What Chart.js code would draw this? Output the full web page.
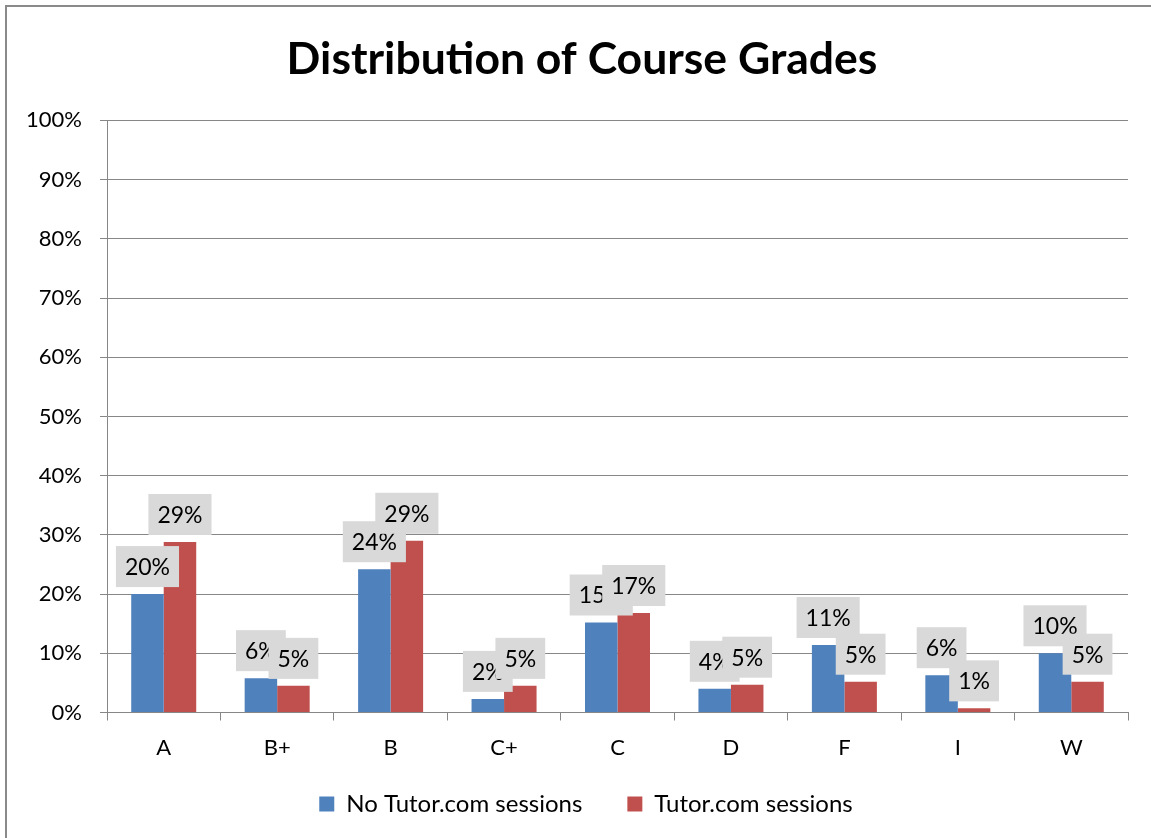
<!DOCTYPE html>
<html>
<head>
<meta charset="utf-8">
<script src="https://cdn.jsdelivr.net/npm/chart.js@4.4.0/dist/chart.umd.min.js"></script>
<style>
  html, body { margin: 0; padding: 0; background: #fff; }
  #wrap { width: 1151px; height: 838px; }
</style>
</head>
<body>
<div id="wrap"><canvas id="gradesChart" width="1151" height="838"></canvas></div>
<script>
// ===== Data =====
const grades = ['A', 'B+', 'B', 'C+', 'C', 'D', 'F', 'I', 'W'];
const noTutor = [20.0, 5.8, 24.2, 2.3, 15.2, 4.0, 11.4, 6.3, 10.0];
const withTutor = [28.8, 4.5, 29.0, 4.5, 16.8, 4.7, 5.2, 0.7, 5.2];
const yTicks = [0, 10, 20, 30, 40, 50, 60, 70, 80, 90, 100];

const FONT = 'Lato, Carlito, Calibri, sans-serif';
const GRID = '#878787';

// grey boxed value labels, Excel style
const valueLabels = {
  id: 'valueLabels',
  afterDatasetsDraw(chart) {
    const ctx = chart.ctx;
    ctx.save();
    ctx.font = '23px ' + FONT;
    ctx.textAlign = 'center';
    ctx.textBaseline = 'middle';
    chart.data.datasets.forEach((ds, i) => {
      chart.getDatasetMeta(i).data.forEach((bar, j) => {
        const txt = Math.round(ds.data[j]) + '%';
        const w = ctx.measureText(txt).width + 18;
        const h = 41;
        const x = bar.x - w / 2;
        const y = bar.y - 7 - h;
        ctx.fillStyle = '#D9D9D9';
        ctx.fillRect(x, y, w, h);
        ctx.fillStyle = '#000';
        ctx.fillText(txt, bar.x, y + h / 2 + 1);
      });
    });
    ctx.restore();
  }
};

// outer frame (top and left edges visible)
const frame = {
  id: 'frame',
  beforeDraw(chart) {
    const ctx = chart.ctx;
    ctx.save();
    ctx.fillStyle = '#fff';
    ctx.fillRect(0, 0, chart.width, chart.height);
    ctx.strokeStyle = '#8a8a8a';
    ctx.lineWidth = 2;
    ctx.beginPath();
    ctx.moveTo(6, chart.height);
    ctx.lineTo(6, 6);
    ctx.lineTo(chart.width, 6);
    ctx.stroke();
    ctx.restore();
  }
};

// move title / legend a bit to sit like the Excel original
const nudge = {
  id: 'nudge',
  afterLayout(chart) {
    const t = chart.titleBlock, lg = chart.legend;
    t.left += 18; t.right += 18;
    lg.left += 22; lg.right += 22;
    lg.top -= 14; lg.bottom -= 14;
  }
};

const ctx1 = document.getElementById('gradesChart').getContext('2d');
const gradesChart = new Chart(ctx1, {
  type: 'bar',
  data: {
    labels: grades,
    datasets: [{
      label: 'No Tutor.com sessions',
      data: noTutor,
      backgroundColor: '#4F81BD',
      borderWidth: 0
    }, {
      label: 'Tutor.com sessions',
      data: withTutor,
      backgroundColor: '#C0504D',
      borderWidth: 0
    }]
  },
  options: {
    responsive: false,
    animation: false,
    categoryPercentage: 0.573,
    barPercentage: 1,
    layout: { padding: { left: 0, right: 23, top: 0, bottom: 7 } },
    plugins: {
      title: {
        display: true,
        text: 'Distribution of Course Grades',
        color: '#000',
        font: { family: FONT, size: 44.5, weight: 'bold' },
        padding: { top: 33, bottom: 34 }
      },
      legend: {
        position: 'bottom',
        maxHeight: 70,
        labels: {
          color: '#000',
          font: { family: FONT, size: 24 },
          boxWidth: 15,
          boxHeight: 15,
          padding: 45
        }
      },
      tooltip: { enabled: false }
    },
    scales: {
      x: {
        afterFit(scale) { scale.height = 48.5; },
        grid: { display: true, drawOnChartArea: false, drawTicks: true, tickLength: 8, color: GRID, offset: true },
        border: { color: GRID, width: 1 },
        ticks: { color: '#000', font: { family: FONT, size: 22 }, padding: 14 }
      },
      y: {
        min: 0,
        max: 100,
        afterFit(scale) { scale.width = 107; },
        afterBuildTicks(scale) { scale.ticks = yTicks.map(v => ({ value: v })); },
        grid: { color: GRID, tickLength: 7 },
        border: { color: GRID, width: 1 },
        ticks: {
          color: '#000',
          font: { family: FONT, size: 22 },
          padding: 18,
          callback: v => v + '%'
        }
      }
    }
  },
  plugins: [frame, nudge, valueLabels]
});
</script>
</body>
</html>
